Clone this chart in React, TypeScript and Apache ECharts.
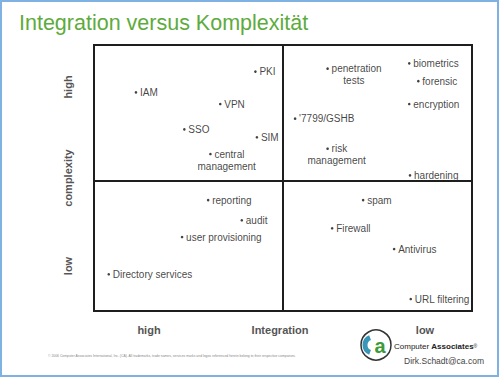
import React, { useEffect, useRef } from "react";
import * as echarts from "echarts";

// ---- data ----
const itemNames = [
  "PKI", "IAM", "VPN", "SSO", "SIM", "central\nmanagement",
  "penetration\ntests", "biometrics", "forensic", "encryption", "'7799/GSHB", "risk\nmanagement", "hardening",
  "reporting", "audit", "user provisioning", "Directory services",
  "spam", "Firewall", "Antivirus", "URL filtering",
];
// integration (0 = high ... 100 = low)
const integrationValues = [
  42.7, 11.1, 33.4, 23.9, 43.1, 30.8,
  61.8, 83.4, 85.8, 83.4, 53.2, 61.8, 83.6,
  30.2, 39.1, 23.3, 3.9,
  71.2, 63.0, 79.4, 83.8,
];
// complexity (0 = low ... 100 = high)
const complexityValues = [
  90.0, 82.2, 77.8, 68.3, 65.3, 59.0,
  91.1, 93.1, 86.4, 77.8, 72.3, 61.0, 51.0,
  41.7, 34.1, 27.8, 13.8,
  41.7, 31.1, 23.3, 4.5,
];
const quadrantSplitX = 50;
const quadrantSplitY = 49;
const yAxisLabels = ["high", "complexity", "low"];
const xAxisLabels = ["high", "Integration", "low"];
const titleText = "Integration versus Komplexität";
const copyrightText =
  "© 2006 Computer Associates International, Inc. (CA). All trademarks, trade names, services marks and logos referenced herein belong to their respective companies.";
const contactText = "Dirk.Schadt@ca.com";

const FONT = '"Liberation Sans", Arial, Helvetica, sans-serif';
const LABEL_SIZE = 10;
const BULLET_GAP = 4;

function measureText(t: string): number {
  const c = document.createElement("canvas").getContext("2d");
  if (!c) return t.length * 5;
  c.font = `${LABEL_SIZE}px ${FONT}`;
  return c.measureText(t).width;
}

export default function App() {
  const ref = useRef<HTMLDivElement>(null);

  useEffect(() => {
    document.body.style.margin = "0";
    if (!ref.current) return;
    const chart = echarts.init(ref.current, undefined, { renderer: "svg" });

    const data = itemNames.map((n, i) => {
      const lines = n.split("\n");
      const item: any = { name: n, value: [integrationValues[i], complexityValues[i]] };
      if (lines.length > 1) {
        const w1 = measureText(lines[0]);
        const lead = BULLET_GAP + 1.5;
        const dx = (lead + w1) / 2 - 1.5;
        item.label = {
          position: "inside",
          align: "center",
          verticalAlign: "top",
          offset: [dx, -6],
          formatter: `{sp| }${lines[0]}\n${lines[1]}`,
          rich: { sp: { width: lead, lineHeight: 12, fontSize: LABEL_SIZE } },
        };
      }
      return item;
    });

    const grid = { left: 94, right: 28, top: 45, bottom: 67 };
    const yLabelPos = [87, 178, 266];
    const xLabelPos = [149, 280, 425];

    const graphics: any[] = [
      {
        type: "rect",
        shape: { x: 1, y: 1, width: 497, height: 375 },
        style: { fill: "none", stroke: "#7fb1e3", lineWidth: 2 },
        silent: true,
      },
      ...yAxisLabels.map((t, i) => ({
        type: "text",
        x: 68,
        y: yLabelPos[i],
        rotation: Math.PI / 2,
        style: {
          text: t,
          fill: "#555",
          font: `bold 11px ${FONT}`,
          textAlign: "center",
          textVerticalAlign: "middle",
        },
      })),
      ...xAxisLabels.map((t, i) => ({
        type: "text",
        x: xLabelPos[i],
        y: 330,
        style: {
          text: t,
          fill: "#555",
          font: `bold 11px ${FONT}`,
          textAlign: "center",
          textVerticalAlign: "middle",
        },
      })),
      {
        type: "text",
        x: 48,
        y: 356,
        style: {
          text: copyrightText,
          fill: "#888",
          font: `3.4px ${FONT}`,
          textVerticalAlign: "middle",
        },
      },
      // CA logo
      {
        type: "circle",
        shape: { cx: 376, cy: 345, r: 15 },
        style: { fill: "#fff", stroke: "#333", lineWidth: 1.5 },
      },
      {
        type: "arc",
        shape: { cx: 373, cy: 345, r: 8, startAngle: Math.PI * 0.62, endAngle: Math.PI * 1.38 },
        style: { stroke: "#3a96b8", lineWidth: 5, fill: "none" },
      },
      {
        type: "text",
        x: 380,
        y: 346,
        style: {
          text: "a",
          fill: "#3d9a3a",
          font: `bold 20px ${FONT}`,
          textAlign: "center",
          textVerticalAlign: "middle",
        },
      },
      {
        type: "text",
        x: 394,
        y: 346,
        style: {
          text: "{n|Computer }{b|Associates}{r|®}",
          textVerticalAlign: "middle",
          rich: {
            n: { fill: "#222", font: `8px ${FONT}` },
            b: { fill: "#222", font: `bold 8px ${FONT}` },
            r: { fill: "#222", font: `5px ${FONT}` },
          },
        },
      },
      {
        type: "text",
        x: 404,
        y: 361,
        style: {
          text: contactText,
          fill: "#444",
          font: `8.5px ${FONT}`,
          textVerticalAlign: "middle",
        },
      },
    ];

    chart.setOption({
      animation: false,
      backgroundColor: "#fff",
      title: {
        text: titleText,
        left: 14,
        top: 7,
        textStyle: { color: "#5dab3c", fontSize: 21.5, fontWeight: "normal", fontFamily: FONT },
      },
      grid: { ...grid, show: true, borderColor: "#1e1e1e", borderWidth: 2, backgroundColor: "transparent" },
      xAxis: { type: "value", min: 0, max: 100, show: false },
      yAxis: { type: "value", min: 0, max: 100, show: false },
      graphic: graphics,
      series: [
        {
          type: "scatter",
          symbol: "circle",
          symbolSize: 2.6,
          itemStyle: { color: "#111" },
          data,
          label: {
            show: true,
            position: "right",
            distance: BULLET_GAP - 1.3,
            formatter: "{b}",
            color: "#111",
            fontSize: LABEL_SIZE,
            fontFamily: FONT,
            lineHeight: 12,
          },
          markLine: {
            silent: true,
            symbol: ["none", "none"],
            label: { show: false },
            lineStyle: { color: "#1e1e1e", width: 2, type: "solid" },
            data: [{ xAxis: quadrantSplitX }, { yAxis: quadrantSplitY }],
          },
        },
      ],
    });

    return () => chart.dispose();
  }, []);

  return (
    <div
      ref={ref}
      style={{ position: "fixed", left: 0, top: 0, width: 500, height: 378 }}
    />
  );
}
